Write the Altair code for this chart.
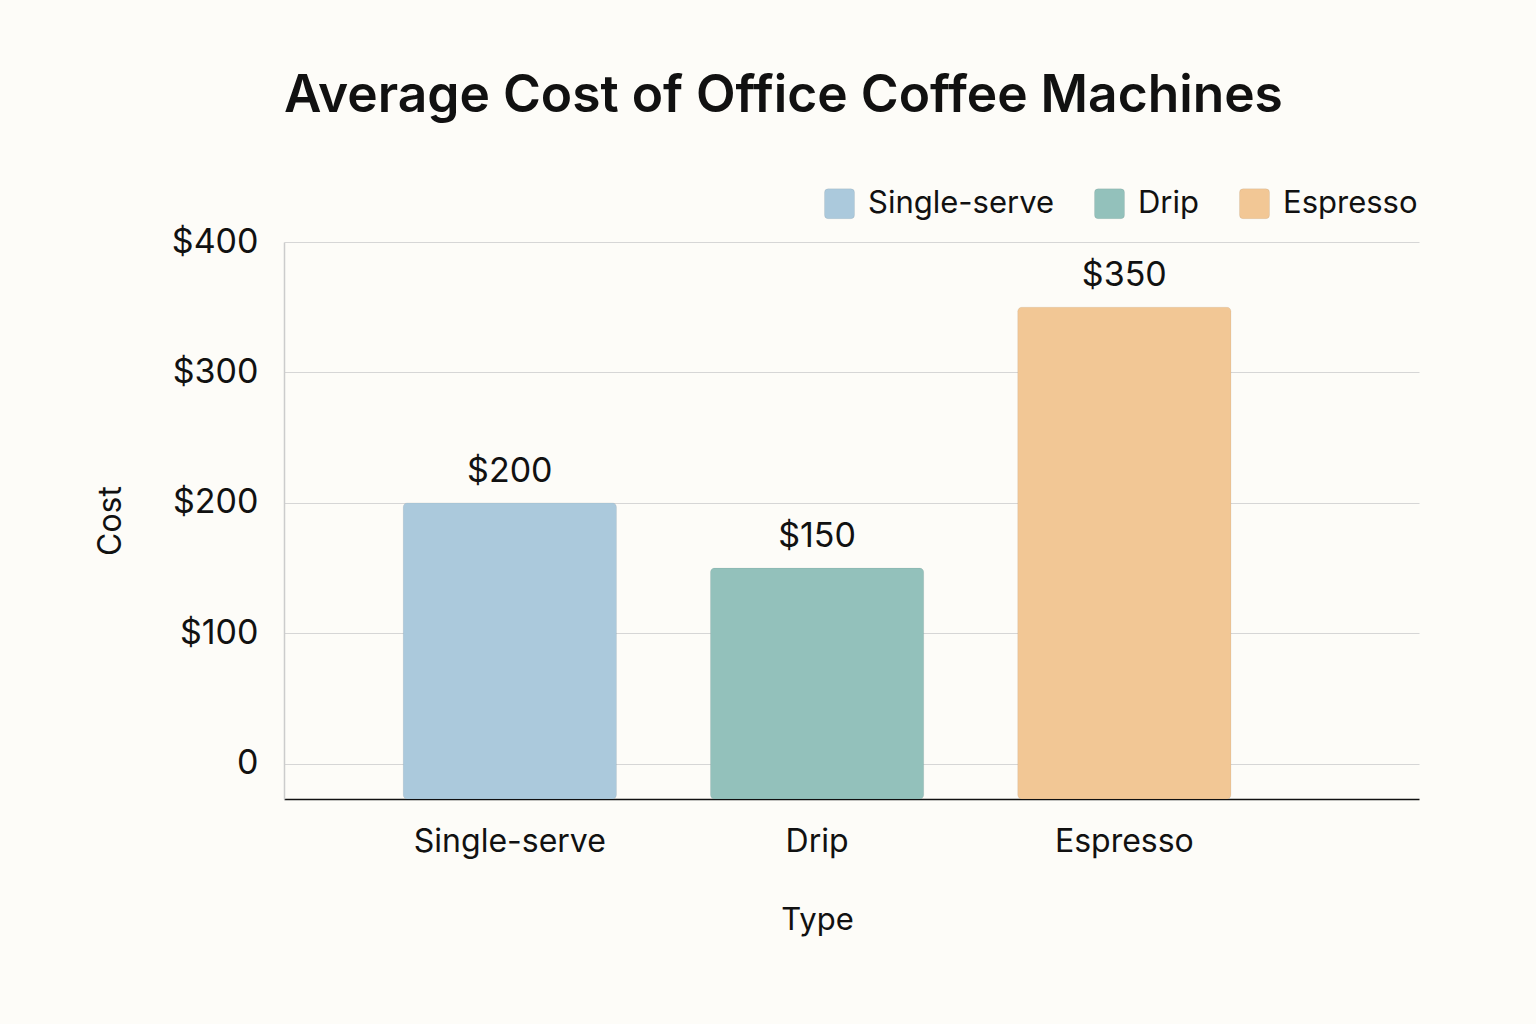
import altair as alt
import pandas as pd

types = ["Single-serve", "Drip", "Espresso"]
costs = [200, 150, 350]
labels = ["$200", "$150", "$350"]
colors = ["#abc9dc", "#93c1bb", "#f2c795"]
y_ticks = [0, 100, 200, 300, 400]

df = pd.DataFrame({"Type": types, "Cost": costs, "Label": labels})

FONT = "Inter"

ROUNDED_SQUARE = (
    "M -0.75 -1 L 0.75 -1 Q 1 -1 1 -0.75 L 1 0.75 Q 1 1 0.75 1 "
    "L -0.75 1 Q -1 1 -1 0.75 L -1 -0.75 Q -1 -1 -0.75 -1 Z"
)

x_scale = alt.Scale(paddingInner=0.306, paddingOuter=0.5, align=0.388)

x_enc = alt.X(
    "Type:N",
    sort=types,
    title="Type",
    scale=x_scale,
    axis=alt.Axis(
        labelAngle=0,
        labelFontSize=32,
        labelFont=FONT,
        labelColor="#111111",
        labelPadding=27,
        labelLimit=0,
        ticks=False,
        domainColor="#111111",
        domainWidth=1.5,
        titleFontSize=31,
        titleFont=FONT,
        titleFontWeight="normal",
        titleColor="#111111",
        titlePadding=48,
        titleX=533,
        titleAlign="center",
        grid=False,
    ),
)

y_scale = alt.Scale(domain=[-27, 400], nice=False, zero=False)

bars = alt.Chart(df).mark_bar(
    cornerRadius=4, opacity=1, stroke="#000000", strokeOpacity=0.06, strokeWidth=1
).encode(
    x=x_enc,
    y=alt.Y(
        "Cost:Q",
        scale=y_scale,
        title="Cost",
        axis=alt.Axis(
            values=y_ticks,
            labelExpr="datum.value == 0 ? '0' : '$' + datum.label",
            labelFontSize=34,
            labelFont=FONT,
            labelColor="#111111",
            labelPadding=26,
            ticks=False,
            domainColor="#cccccc",
            domainWidth=1.5,
            gridColor="#d6d6d6",
            gridWidth=1.2,
            titleFontSize=32,
            titleFont=FONT,
            titleFontWeight="normal",
            titleColor="#111111",
            titlePadding=44,
        ),
    ),
    y2=alt.datum(-27),
    color=alt.Color(
        "Type:N",
        sort=types,
        scale=alt.Scale(domain=types, range=colors),
        legend=alt.Legend(
            title=None,
            orient="none",
            legendX=540,
            legendY=-54,
            direction="horizontal",
            symbolType=ROUNDED_SQUARE,
            symbolSize=900,
            symbolStrokeWidth=1,
            symbolStrokeColor="rgba(0,0,0,0.06)",
            symbolOpacity=1,
            labelFontSize=31,
            labelFont=FONT,
            labelColor="#111111",
            labelOffset=13,
            labelLimit=0,
            columnPadding=37,
        ),
    ),
)

text = alt.Chart(df).mark_text(
    dy=-31, fontSize=34, font=FONT, color="#111111", baseline="middle"
).encode(
    x=alt.X("Type:N", sort=types, scale=x_scale),
    y=alt.Y("Cost:Q", scale=y_scale),
    text="Label:N",
)

chart = (
    alt.layer(bars, text)
    .properties(
        width=1135,
        height=557,
        background="#fdfcf8",
        padding={"left": 94, "top": 70, "right": 117, "bottom": 92},
        title=alt.TitleParams(
            "Average Cost of Office Coffee Machines",
            anchor="start",
            frame="group",
            font=FONT,
            fontSize=51.5,
            fontWeight=600,
            color="#111111",
            offset=66,
        ),
    )
    .configure_view(stroke=None)
)

chart.save("out.html", embed_options={"renderer": "svg", "actions": False})
